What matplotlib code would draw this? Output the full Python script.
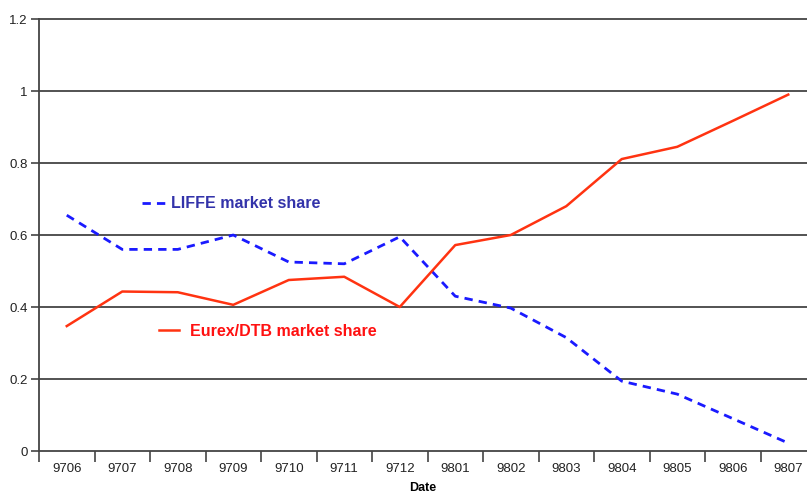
import matplotlib.pyplot as plt
from matplotlib.lines import Line2D
import numpy as np

plt.rcParams['font.family'] = ['Liberation Sans', 'DejaVu Sans']

dates = ['9706', '9707', '9708', '9709', '9710', '9711', '9712',
         '9801', '9802', '9803', '9804', '9805', '9806', '9807']
liffe = [0.655, 0.56, 0.56, 0.60, 0.525, 0.52, 0.595,
         0.43, 0.397, 0.315, 0.194, 0.158, 0.09, 0.022]
eurex = [0.347, 0.443, 0.441, 0.406, 0.475, 0.484, 0.40,
         0.572, 0.60, 0.68, 0.811, 0.845, 0.917, 0.99]

fig = plt.figure(figsize=(8.07, 4.95), dpi=100)
ax = fig.add_axes([39 / 807, 1 - 451 / 495, 1 - 39 / 807, (451 - 19) / 495])

x = np.arange(len(dates))
ax.plot(x, liffe, color='#1a1aff', lw=2, dashes=(3, 2.2), solid_capstyle='butt')
ax.plot(x, eurex, color='#ff3311', lw=1.8)

ax.set_ylim(0, 1.2)
ax.set_xlim(-0.5, -0.5 + (807 - 39) / 55.5)
ax.set_yticks(np.arange(0, 1.21, 0.2))
ax.set_yticklabels(['0', '0.2', '0.4', '0.6', '0.8', '1', '1.2'])
ax.yaxis.grid(True, color='#444444', lw=1.3)
ax.set_axisbelow(True)
for gl in ax.get_ygridlines():
    gl.set_clip_on(False)

ax.set_xticks(np.arange(-0.5, len(dates) - 0.5, 1.0))
ax.set_xticklabels([])
ax.set_xticks(x, minor=True)
ax.set_xticklabels(dates, minor=True)
ax.tick_params(axis='x', which='major', length=8, width=1.2, color='#444444', direction='out')
ax.tick_params(axis='x', which='minor', length=0, pad=9, labelsize=9.5, labelcolor='#222222')
ax.tick_params(axis='y', length=6, width=1.2, color='#444444', labelsize=9.5,
               labelcolor='#222222', pad=2)

for s in ['top', 'right', 'bottom']:
    ax.spines[s].set_visible(False)
ax.spines['left'].set_color('#444444')
ax.spines['left'].set_linewidth(1.3)

ax.set_xlabel('Date', fontsize=9, fontweight='bold', labelpad=4.5)

h1 = Line2D([], [], color='#1a1aff', lw=2, dashes=(3, 2.2))
leg1 = ax.legend([h1], ['LIFFE market share'], loc='center left',
                 bbox_to_anchor=(0.116, 0.572), frameon=False, handlelength=1.4,
                 handletextpad=0.4, prop={'weight': 'bold', 'size': 11.5})
leg1.get_texts()[0].set_color('#3333aa')
ax.add_artist(leg1)

h2 = Line2D([], [], color='#ff3311', lw=1.8)
leg2 = ax.legend([h2], ['Eurex/DTB market share'], loc='center left',
                 bbox_to_anchor=(0.137, 0.277), frameon=False, handlelength=1.3,
                 handletextpad=0.65, prop={'weight': 'bold', 'size': 11.5})
leg2.get_texts()[0].set_color('#ff1111')

fig.savefig('out.png', dpi=100)
